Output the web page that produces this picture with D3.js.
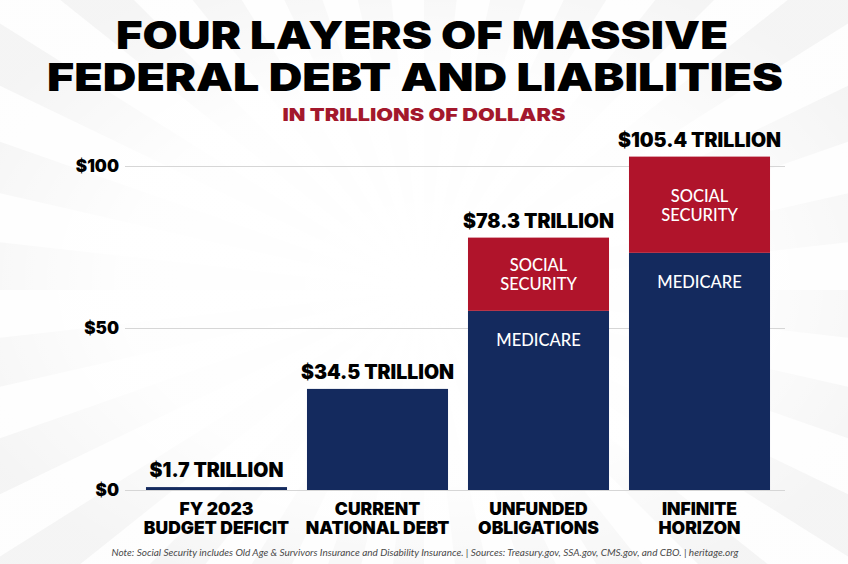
<!DOCTYPE html>
<html>
<head>
<meta charset="utf-8">
<script src="https://cdn.jsdelivr.net/npm/d3@7"></script>
<style>
    html, body { margin: 0; padding: 0; background: #fff; }
    svg { display: block; }
</style>
</head>
<body>
<div id="chart"></div>
<script>
// Four layers of federal debt - stacked bar chart

// data (bar heights as drawn, labels as printed)
const categoriesTop = ['FY 2023', 'CURRENT', 'UNFUNDED', 'INFINITE'];
const categoriesBottom = ['BUDGET DEFICIT', 'NATIONAL DEBT', 'OBLIGATIONS', 'HORIZON'];
const baseValues = [0.9, 31.2, 55.3, 73.2];
const socialSecurityValues = [0, 0, 22.6, 29.7];
const totalLabels = ['$1.7 TRILLION', '$34.5 TRILLION', '$78.3 TRILLION', '$105.4 TRILLION'];
const baseLabels = ['', '', 'MEDICARE', 'MEDICARE'];
const yTicks = [0, 50, 100];
const yTickLabels = ['$0', '$50', '$100'];

const width = 848;
const height = 564;
const navy = '#142a5e';
const red = '#b0142b';
const heavy = 'Inter, Lato, sans-serif';

const svg = d3.select('#chart').append('svg')
    .attr('width', width)
    .attr('height', height);

// 背景光线
const defs = svg.append('defs');
const fade = defs.append('radialGradient')
    .attr('id', 'fade')
    .attr('cx', '50%').attr('cy', '50%').attr('r', '60%');
fade.append('stop').attr('offset', '0%').attr('stop-color', '#fff').attr('stop-opacity', 1);
fade.append('stop').attr('offset', '60%').attr('stop-color', '#fff').attr('stop-opacity', 0.92);
fade.append('stop').attr('offset', '100%').attr('stop-color', '#fff').attr('stop-opacity', 0.35);

svg.append('rect').attr('width', width).attr('height', height).attr('fill', '#fdfdfd');

const cx = 424, cy = 290, R = 900;
const rays = d3.range(0, 28);
svg.append('g').selectAll('path')
    .data(rays)
    .enter()
    .append('path')
    .attr('d', i => {
        const a0 = (i / 28) * Math.PI * 2;
        const a1 = a0 + (Math.PI * 2 / 28) * 0.5;
        return `M${cx},${cy}L${cx + R * Math.cos(a0)},${cy + R * Math.sin(a0)}L${cx + R * Math.cos(a1)},${cy + R * Math.sin(a1)}Z`;
    })
    .attr('fill', '#efefef');

svg.append('rect').attr('width', width).attr('height', height).attr('fill', 'url(#fade)');

// 标题
const title = svg.append('g')
    .attr('font-family', heavy)
    .attr('font-weight', 900)
    .attr('fill', '#000')
    .attr('text-anchor', 'middle');

title.append('text')
    .attr('x', 422).attr('y', 49)
    .attr('font-size', 38.5)
    .attr('textLength', 612)
    .attr('lengthAdjust', 'spacingAndGlyphs')
    .text('FOUR LAYERS OF MASSIVE');

title.append('text')
    .attr('x', 415).attr('y', 91)
    .attr('font-size', 38.5)
    .attr('textLength', 736)
    .attr('lengthAdjust', 'spacingAndGlyphs')
    .text('FEDERAL DEBT AND LIABILITIES');

svg.append('text')
    .attr('x', 424).attr('y', 121)
    .attr('text-anchor', 'middle')
    .attr('font-family', heavy)
    .attr('font-weight', 900)
    .attr('font-size', 18)
    .attr('fill', '#a3182c')
    .attr('textLength', 283)
    .attr('lengthAdjust', 'spacingAndGlyphs')
    .text('IN TRILLIONS OF DOLLARS');

// 比例尺
const xScale = d3.scaleBand()
    .domain(d3.range(categoriesTop.length))
    .range([136, 780])
    .paddingInner(0.124)
    .paddingOuter(0.062);

const yScale = d3.scaleLinear()
    .domain([0, 100])
    .range([490, 166]);

// 网格线 + y 轴标签
const yAxis = svg.append('g')
    .call(d3.axisLeft(yScale)
        .tickValues(yTicks)
        .tickSize(-660)
        .tickPadding(6)
        .tickFormat((d, i) => yTickLabels[i]))
    .attr('transform', 'translate(125,0)');

yAxis.select('.domain').remove();
yAxis.selectAll('.tick line')
    .attr('stroke', '#d6d6d6')
    .attr('stroke-width', 1);
yAxis.selectAll('.tick text')
    .attr('font-family', heavy)
    .attr('font-weight', 900)
    .attr('font-size', 17)
    .attr('fill', '#000');

// 柱子
const bars = svg.append('g');

bars.selectAll('.base-bar')
    .data(baseValues)
    .enter()
    .append('rect')
    .attr('class', 'base-bar')
    .attr('x', (d, i) => xScale(i))
    .attr('width', xScale.bandwidth())
    .attr('y', d => yScale(d))
    .attr('height', d => yScale(0) - yScale(d))
    .attr('fill', navy);

bars.selectAll('.ss-bar')
    .data(socialSecurityValues)
    .enter()
    .append('rect')
    .attr('class', 'ss-bar')
    .attr('x', (d, i) => xScale(i))
    .attr('width', xScale.bandwidth())
    .attr('y', (d, i) => yScale(baseValues[i] + d))
    .attr('height', (d, i) => yScale(baseValues[i]) - yScale(baseValues[i] + d))
    .attr('fill', red);

// 柱内标签
const inner = svg.append('g')
    .attr('font-family', 'Lato, "Open Sans", sans-serif')
    .attr('font-weight', 500)
    .attr('font-size', 16.5)
    .attr('fill', '#fff')
    .attr('text-anchor', 'middle');

socialSecurityValues.forEach((d, i) => {
    if (d <= 0) return;
    const mid = (yScale(baseValues[i] + d) + yScale(baseValues[i])) / 2;
    const x = xScale(i) + xScale.bandwidth() / 2;
    inner.append('text').attr('x', x).attr('y', mid - 3).text('SOCIAL');
    inner.append('text').attr('x', x).attr('y', mid + 16).text('SECURITY');
});

inner.selectAll('.base-label')
    .data(baseLabels)
    .enter()
    .append('text')
    .attr('class', 'base-label')
    .attr('x', (d, i) => xScale(i) + xScale.bandwidth() / 2)
    .attr('y', (d, i) => yScale(baseValues[i]) + 35)
    .text(d => d);

// 总额标签
svg.append('g').selectAll('text')
    .data(totalLabels)
    .enter()
    .append('text')
    .attr('x', (d, i) => xScale(i) + xScale.bandwidth() / 2)
    .attr('y', (d, i) => yScale(baseValues[i] + socialSecurityValues[i]) - 10)
    .attr('text-anchor', 'middle')
    .attr('font-family', heavy)
    .attr('font-weight', 900)
    .attr('font-size', 19.5)
    .attr('fill', '#000')
    .text(d => d);

// 类别标签
const cats = svg.append('g')
    .attr('font-family', heavy)
    .attr('font-weight', 900)
    .attr('font-size', 17.5)
    .attr('fill', '#000')
    .attr('text-anchor', 'middle');

cats.selectAll('.cat-top')
    .data(categoriesTop)
    .enter()
    .append('text')
    .attr('class', 'cat-top')
    .attr('x', (d, i) => xScale(i) + xScale.bandwidth() / 2)
    .attr('y', 515)
    .text(d => d);

cats.selectAll('.cat-bottom')
    .data(categoriesBottom)
    .enter()
    .append('text')
    .attr('class', 'cat-bottom')
    .attr('x', (d, i) => xScale(i) + xScale.bandwidth() / 2)
    .attr('y', 534)
    .text(d => d);

// 脚注
svg.append('text')
    .attr('x', 425).attr('y', 556)
    .attr('text-anchor', 'middle')
    .attr('font-family', 'Lato, "Open Sans", sans-serif')
    .attr('font-style', 'italic')
    .attr('font-size', 10)
    .attr('fill', '#4a4a4a')
    .text('Note: Social Security includes Old Age & Survivors Insurance and Disability Insurance. | Sources: Treasury.gov, SSA.gov, CMS.gov, and CBO. | heritage.org');
</script>
</body>
</html>
